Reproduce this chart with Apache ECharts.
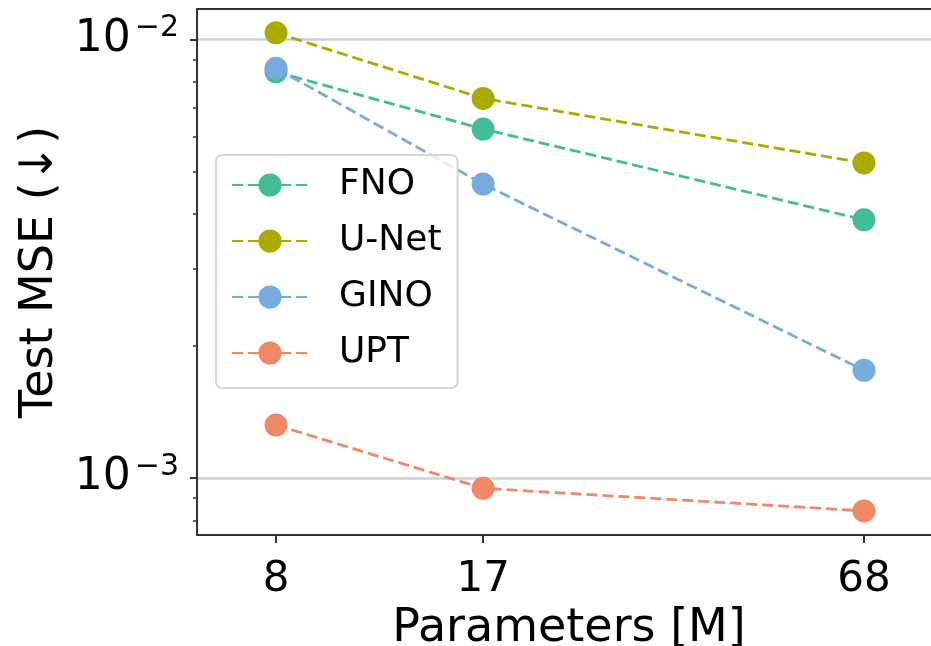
<!DOCTYPE html>
<html>
<head>
<meta charset="utf-8">
<script src="https://cdn.jsdelivr.net/npm/echarts@6/dist/echarts.min.js"></script>
<style>
  html, body { margin: 0; padding: 0; background: #fff; }
  #chart { width: 931px; height: 646px; }
</style>
</head>
<body>
<div id="chart"></div>
<script>
// parameters (millions) on the x axis
const params = [8, 17, 68];
// test MSE per model
const fno = [0.00844, 0.00625, 0.00388];
const unet = [0.01036, 0.00734, 0.00523];
const gino = [0.00860, 0.00468, 0.00176];
const upt = [0.00132, 0.000947, 0.000841];
// ticks
const xTicks = [8, 17, 68];
const yMajor = [0.001, 0.01];
const yMinor = [0.0008, 0.0009, 0.002, 0.003, 0.004, 0.005, 0.006, 0.007, 0.008, 0.009];

const names = ['FNO', 'U-Net', 'GINO', 'UPT'];
const colors = ['#44BB99', '#AAAA00', '#77AADD', '#EE8866'];
const values = [fno, unet, gino, upt];

const font = 'DejaVu Sans';
const axisColor = '#333';

let chart = echarts.init(document.getElementById('chart'));

// 组装系列
let series = names.map(function (n, i) {
  return {
    name: n,
    type: 'line',
    xAxisIndex: 0,
    yAxisIndex: 0,
    data: params.map(function (p, j) { return [p, values[i][j]]; }),
    symbol: 'circle',
    symbolSize: 23,
    itemStyle: { color: colors[i] },
    lineStyle: { color: colors[i], width: 2.8, type: [11, 5] },
    emphasis: { disabled: true },
    animation: false
  };
});

chart.setOption({
  animation: false,
  grid: {
    left: 197, top: 9, right: -10, bottom: 111,
    show: false,
    containLabel: false, outerBoundsMode: 'none'
  },
  legend: {
    left: 216, top: 155,
    orient: 'vertical',
    data: names,
    itemWidth: 76, itemHeight: 29,
    itemGap: 20,
    padding: [12, 16, 17, 15],
    backgroundColor: 'rgba(255,255,255,0.8)',
    borderColor: '#d6d6d6', borderWidth: 2, borderRadius: 6,
    textStyle: { fontFamily: font, fontSize: 36, color: '#000', padding: [0, 0, 0, 26] },
    selectedMode: false
  },
  xAxis: [
    {
      type: 'log', logBase: 10, min: 6, max: 90, position: 'bottom',
      name: 'Parameters [M]', nameLocation: 'middle', nameGap: 64,
      nameTextStyle: { fontFamily: font, fontSize: 46, color: '#000' },
      axisLine: { show: true, onZero: false, lineStyle: { color: axisColor, width: 2 } },
      axisTick: { show: true, customValues: xTicks, length: 8, lineStyle: { color: axisColor, width: 2 } },
      axisLabel: { customValues: xTicks, fontFamily: font, fontSize: 42, color: '#000', margin: 24,
        formatter: function (v) { return String(Math.round(v)); } },
      splitLine: { show: false },
      minorTick: { show: false }
    },
    {
      // 顶部边框
      type: 'log', logBase: 10, min: 6, max: 90, position: 'top',
      axisLine: { show: true, onZero: false, lineStyle: { color: axisColor, width: 2 } },
      axisTick: { show: false },
      axisLabel: { show: false },
      splitLine: { show: false }
    }
  ],
  yAxis: [
    {
      type: 'log', logBase: 10, min: 0.000741, max: 0.01174, position: 'left',
      name: 'Test MSE (↓)', nameLocation: 'middle', nameGap: 134, nameRotate: 90,
      nameTextStyle: { fontFamily: font, fontSize: 46, color: '#000' },
      axisLine: { show: true, onZero: false, lineStyle: { color: axisColor, width: 2 } },
      axisTick: { show: true, customValues: yMajor, length: 7, lineStyle: { color: axisColor, width: 2 } },
      axisLabel: {
        customValues: yMajor, margin: 18,
        formatter: function (v) {
          let e = Math.round(Math.log10(v));
          return '{b|10}{s|−' + (-e) + '}';
        },
        rich: {
          b: { fontFamily: font, fontSize: 44, color: '#000', lineHeight: 52 },
          s: { fontFamily: font, fontSize: 30, color: '#000', lineHeight: 30, verticalAlign: 'top', padding: [0, 0, 0, 4] }
        }
      },
      splitLine: { show: true, lineStyle: { color: '#cfcfcf', width: 2.5 } }
    },
    {
      // 次刻度
      type: 'log', logBase: 10, min: 0.000741, max: 0.01174, position: 'left',
      axisLine: { show: false },
      axisTick: { show: true, customValues: yMinor, length: 4, lineStyle: { color: axisColor, width: 1.5 } },
      axisLabel: { show: false },
      splitLine: { show: false }
    }
  ],
  series: series
});
</script>
</body>
</html>
